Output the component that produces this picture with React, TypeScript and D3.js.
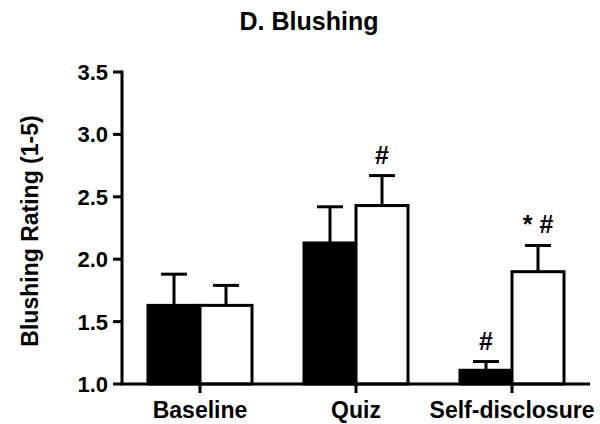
import * as d3 from 'd3'

const WIDTH = 600
const HEIGHT = 424
const MARGIN = { top: 72, right: 10, bottom: 40, left: 122 }

const CATEGORIES = ['Baseline', 'Quiz', 'Self-disclosure']
const SERIES = ['black', 'white']
const BLACK_MEANS = [1.63, 2.13, 1.11]
const BLACK_ERRORS = [0.25, 0.29, 0.07]
const WHITE_MEANS = [1.63, 2.43, 1.9]
const WHITE_ERRORS = [0.16, 0.24, 0.21]
// significance marks per series and category
const BLACK_MARKS = ['', '', '#']
const WHITE_MARKS = ['', '#', '* #']
const Y_TICKS = [1.0, 1.5, 2.0, 2.5, 3.0, 3.5]

const FONT = '"Liberation Sans", Arial, sans-serif'

export default function App() {
  const x = d3
    .scaleBand()
    .domain(CATEGORIES)
    .range([MARGIN.left, WIDTH - MARGIN.right])
    .paddingInner(1 / 3)
    .paddingOuter(1 / 6)

  const xInner = d3.scaleBand().domain(SERIES).range([0, x.bandwidth()])

  const y = d3
    .scaleLinear()
    .domain([1, 3.5])
    .range([HEIGHT - MARGIN.bottom, MARGIN.top])

  const rows = CATEGORIES.flatMap((cat, i) => [
    { cat, series: 'black', mean: BLACK_MEANS[i], err: BLACK_ERRORS[i], mark: BLACK_MARKS[i] },
    { cat, series: 'white', mean: WHITE_MEANS[i], err: WHITE_ERRORS[i], mark: WHITE_MARKS[i] },
  ])

  const bottom = y(1)
  const capW = xInner.bandwidth() / 2

  return (
    <svg
      width={WIDTH}
      height={HEIGHT}
      style={{ position: 'absolute', left: 0, top: 0, background: '#fff' }}
      fontFamily={FONT}
    >
      <text x={309} y={30} textAnchor="middle" fontSize={25} fontWeight="bold">
        D. Blushing
      </text>

      <text
        transform={`translate(38,231) rotate(-90)`}
        textAnchor="middle"
        fontSize={23}
        fontWeight="bold"
      >
        Blushing Rating (1-5)
      </text>

      {rows.map((d) => {
        const x0 = (x(d.cat) ?? 0) + (xInner(d.series) ?? 0)
        const cx = x0 + xInner.bandwidth() / 2
        const top = y(d.mean)
        const errTop = y(d.mean + d.err)
        return (
          <g key={d.cat + d.series}>
            <line x1={cx} x2={cx} y1={top} y2={errTop} stroke="#000" strokeWidth={3} />
            <line x1={cx - capW / 2} x2={cx + capW / 2} y1={errTop} y2={errTop} stroke="#000" strokeWidth={3} />
            <rect
              x={x0}
              y={top}
              width={xInner.bandwidth()}
              height={bottom - top}
              fill={d.series === 'black' ? '#000' : '#fff'}
              stroke="#000"
              strokeWidth={3}
            />
            {d.mark && (
              <text x={cx} y={errTop - 12} textAnchor="middle" fontSize={25} fontWeight="bold">
                {d.mark}
              </text>
            )}
          </g>
        )
      })}

      {/* y axis */}
      <line x1={MARGIN.left} x2={MARGIN.left} y1={y(3.5) - 1.5} y2={bottom} stroke="#000" strokeWidth={3} />
      {Y_TICKS.map((t) => (
        <g key={t}>
          <line x1={MARGIN.left - 9} x2={MARGIN.left} y1={y(t)} y2={y(t)} stroke="#000" strokeWidth={3} />
          <text
            x={MARGIN.left - 14}
            y={y(t)}
            dy="0.36em"
            textAnchor="end"
            fontSize={22}
            fontWeight="bold"
          >
            {t.toFixed(1)}
          </text>
        </g>
      ))}

      {/* x axis */}
      <line
        x1={MARGIN.left - 1.5}
        x2={WIDTH - MARGIN.right}
        y1={bottom}
        y2={bottom}
        stroke="#000"
        strokeWidth={3}
      />
      {CATEGORIES.map((c) => {
        const cx = (x(c) ?? 0) + x.bandwidth() / 2
        return (
          <g key={c}>
            <line x1={cx} x2={cx} y1={bottom} y2={bottom + 9} stroke="#000" strokeWidth={3} />
            <text x={cx} y={418} textAnchor="middle" fontSize={23} fontWeight="bold">
              {c}
            </text>
          </g>
        )
      })}
    </svg>
  )
}
